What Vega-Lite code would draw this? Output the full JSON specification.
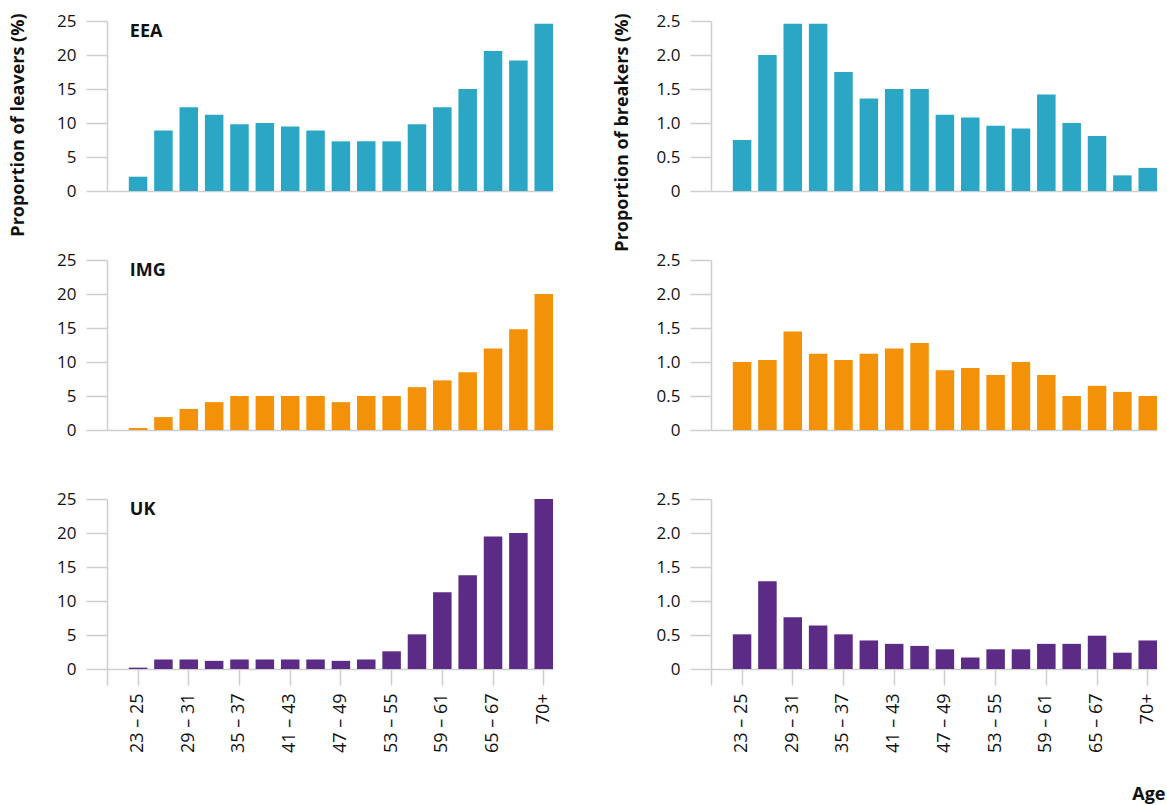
{
  "$schema": "https://vega.github.io/schema/vega-lite/v6.json",
  "padding": {"left": 8, "top": 12, "right": 2, "bottom": 2},
  "bounds": "flush",
  "columns": 2,
  "spacing": {"row": 69, "column": 158},
  "data": {
    "values": [
      {"group": "EEA", "measure": "leavers", "age": "23 – 25", "value": 2.1},
      {"group": "EEA", "measure": "leavers", "age": "26 – 28", "value": 8.9},
      {"group": "EEA", "measure": "leavers", "age": "29 – 31", "value": 12.3},
      {"group": "EEA", "measure": "leavers", "age": "32 – 34", "value": 11.2},
      {"group": "EEA", "measure": "leavers", "age": "35 – 37", "value": 9.8},
      {"group": "EEA", "measure": "leavers", "age": "38 – 40", "value": 10.0},
      {"group": "EEA", "measure": "leavers", "age": "41 – 43", "value": 9.5},
      {"group": "EEA", "measure": "leavers", "age": "44 – 46", "value": 8.9},
      {"group": "EEA", "measure": "leavers", "age": "47 – 49", "value": 7.3},
      {"group": "EEA", "measure": "leavers", "age": "50 – 52", "value": 7.3},
      {"group": "EEA", "measure": "leavers", "age": "53 – 55", "value": 7.3},
      {"group": "EEA", "measure": "leavers", "age": "56 – 58", "value": 9.8},
      {"group": "EEA", "measure": "leavers", "age": "59 – 61", "value": 12.3},
      {"group": "EEA", "measure": "leavers", "age": "62 – 64", "value": 15.0},
      {"group": "EEA", "measure": "leavers", "age": "65 – 67", "value": 20.6},
      {"group": "EEA", "measure": "leavers", "age": "68 – 69", "value": 19.2},
      {"group": "EEA", "measure": "leavers", "age": "70+", "value": 24.6},
      {"group": "IMG", "measure": "leavers", "age": "23 – 25", "value": 0.3},
      {"group": "IMG", "measure": "leavers", "age": "26 – 28", "value": 1.9},
      {"group": "IMG", "measure": "leavers", "age": "29 – 31", "value": 3.1},
      {"group": "IMG", "measure": "leavers", "age": "32 – 34", "value": 4.1},
      {"group": "IMG", "measure": "leavers", "age": "35 – 37", "value": 5.0},
      {"group": "IMG", "measure": "leavers", "age": "38 – 40", "value": 5.0},
      {"group": "IMG", "measure": "leavers", "age": "41 – 43", "value": 5.0},
      {"group": "IMG", "measure": "leavers", "age": "44 – 46", "value": 5.0},
      {"group": "IMG", "measure": "leavers", "age": "47 – 49", "value": 4.1},
      {"group": "IMG", "measure": "leavers", "age": "50 – 52", "value": 5.0},
      {"group": "IMG", "measure": "leavers", "age": "53 – 55", "value": 5.0},
      {"group": "IMG", "measure": "leavers", "age": "56 – 58", "value": 6.3},
      {"group": "IMG", "measure": "leavers", "age": "59 – 61", "value": 7.3},
      {"group": "IMG", "measure": "leavers", "age": "62 – 64", "value": 8.5},
      {"group": "IMG", "measure": "leavers", "age": "65 – 67", "value": 12.0},
      {"group": "IMG", "measure": "leavers", "age": "68 – 69", "value": 14.8},
      {"group": "IMG", "measure": "leavers", "age": "70+", "value": 20.0},
      {"group": "UK", "measure": "leavers", "age": "23 – 25", "value": 0.2},
      {"group": "UK", "measure": "leavers", "age": "26 – 28", "value": 1.4},
      {"group": "UK", "measure": "leavers", "age": "29 – 31", "value": 1.4},
      {"group": "UK", "measure": "leavers", "age": "32 – 34", "value": 1.2},
      {"group": "UK", "measure": "leavers", "age": "35 – 37", "value": 1.4},
      {"group": "UK", "measure": "leavers", "age": "38 – 40", "value": 1.4},
      {"group": "UK", "measure": "leavers", "age": "41 – 43", "value": 1.4},
      {"group": "UK", "measure": "leavers", "age": "44 – 46", "value": 1.4},
      {"group": "UK", "measure": "leavers", "age": "47 – 49", "value": 1.2},
      {"group": "UK", "measure": "leavers", "age": "50 – 52", "value": 1.4},
      {"group": "UK", "measure": "leavers", "age": "53 – 55", "value": 2.6},
      {"group": "UK", "measure": "leavers", "age": "56 – 58", "value": 5.1},
      {"group": "UK", "measure": "leavers", "age": "59 – 61", "value": 11.3},
      {"group": "UK", "measure": "leavers", "age": "62 – 64", "value": 13.8},
      {"group": "UK", "measure": "leavers", "age": "65 – 67", "value": 19.5},
      {"group": "UK", "measure": "leavers", "age": "68 – 69", "value": 20.0},
      {"group": "UK", "measure": "leavers", "age": "70+", "value": 25.0},
      {"group": "EEA", "measure": "breakers", "age": "23 – 25", "value": 0.75},
      {"group": "EEA", "measure": "breakers", "age": "26 – 28", "value": 2.0},
      {"group": "EEA", "measure": "breakers", "age": "29 – 31", "value": 2.46},
      {"group": "EEA", "measure": "breakers", "age": "32 – 34", "value": 2.46},
      {"group": "EEA", "measure": "breakers", "age": "35 – 37", "value": 1.75},
      {"group": "EEA", "measure": "breakers", "age": "38 – 40", "value": 1.36},
      {"group": "EEA", "measure": "breakers", "age": "41 – 43", "value": 1.5},
      {"group": "EEA", "measure": "breakers", "age": "44 – 46", "value": 1.5},
      {"group": "EEA", "measure": "breakers", "age": "47 – 49", "value": 1.12},
      {"group": "EEA", "measure": "breakers", "age": "50 – 52", "value": 1.08},
      {"group": "EEA", "measure": "breakers", "age": "53 – 55", "value": 0.96},
      {"group": "EEA", "measure": "breakers", "age": "56 – 58", "value": 0.92},
      {"group": "EEA", "measure": "breakers", "age": "59 – 61", "value": 1.42},
      {"group": "EEA", "measure": "breakers", "age": "62 – 64", "value": 1.0},
      {"group": "EEA", "measure": "breakers", "age": "65 – 67", "value": 0.81},
      {"group": "EEA", "measure": "breakers", "age": "68 – 69", "value": 0.23},
      {"group": "EEA", "measure": "breakers", "age": "70+", "value": 0.34},
      {"group": "IMG", "measure": "breakers", "age": "23 – 25", "value": 1.0},
      {"group": "IMG", "measure": "breakers", "age": "26 – 28", "value": 1.03},
      {"group": "IMG", "measure": "breakers", "age": "29 – 31", "value": 1.45},
      {"group": "IMG", "measure": "breakers", "age": "32 – 34", "value": 1.12},
      {"group": "IMG", "measure": "breakers", "age": "35 – 37", "value": 1.03},
      {"group": "IMG", "measure": "breakers", "age": "38 – 40", "value": 1.12},
      {"group": "IMG", "measure": "breakers", "age": "41 – 43", "value": 1.2},
      {"group": "IMG", "measure": "breakers", "age": "44 – 46", "value": 1.28},
      {"group": "IMG", "measure": "breakers", "age": "47 – 49", "value": 0.88},
      {"group": "IMG", "measure": "breakers", "age": "50 – 52", "value": 0.91},
      {"group": "IMG", "measure": "breakers", "age": "53 – 55", "value": 0.81},
      {"group": "IMG", "measure": "breakers", "age": "56 – 58", "value": 1.0},
      {"group": "IMG", "measure": "breakers", "age": "59 – 61", "value": 0.81},
      {"group": "IMG", "measure": "breakers", "age": "62 – 64", "value": 0.5},
      {"group": "IMG", "measure": "breakers", "age": "65 – 67", "value": 0.65},
      {"group": "IMG", "measure": "breakers", "age": "68 – 69", "value": 0.56},
      {"group": "IMG", "measure": "breakers", "age": "70+", "value": 0.5},
      {"group": "UK", "measure": "breakers", "age": "23 – 25", "value": 0.51},
      {"group": "UK", "measure": "breakers", "age": "26 – 28", "value": 1.29},
      {"group": "UK", "measure": "breakers", "age": "29 – 31", "value": 0.76},
      {"group": "UK", "measure": "breakers", "age": "32 – 34", "value": 0.64},
      {"group": "UK", "measure": "breakers", "age": "35 – 37", "value": 0.51},
      {"group": "UK", "measure": "breakers", "age": "38 – 40", "value": 0.42},
      {"group": "UK", "measure": "breakers", "age": "41 – 43", "value": 0.37},
      {"group": "UK", "measure": "breakers", "age": "44 – 46", "value": 0.34},
      {"group": "UK", "measure": "breakers", "age": "47 – 49", "value": 0.29},
      {"group": "UK", "measure": "breakers", "age": "50 – 52", "value": 0.17},
      {"group": "UK", "measure": "breakers", "age": "53 – 55", "value": 0.29},
      {"group": "UK", "measure": "breakers", "age": "56 – 58", "value": 0.29},
      {"group": "UK", "measure": "breakers", "age": "59 – 61", "value": 0.37},
      {"group": "UK", "measure": "breakers", "age": "62 – 64", "value": 0.37},
      {"group": "UK", "measure": "breakers", "age": "65 – 67", "value": 0.49},
      {"group": "UK", "measure": "breakers", "age": "68 – 69", "value": 0.24},
      {"group": "UK", "measure": "breakers", "age": "70+", "value": 0.42}
    ]
  },
  "concat": [
    {
      "width": 446, "height": 170,
      "transform": [{"filter": "datum.group == 'EEA' && datum.measure == 'leavers'"}],
      "encoding": {
        "x": {"field": "age", "type": "nominal", "sort": null,
          "scale": {"domain": ["23 – 25","26 – 28","29 – 31","32 – 34","35 – 37","38 – 40","41 – 43","44 – 46","47 – 49","50 – 52","53 – 55","56 – 58","59 – 61","62 – 64","65 – 67","68 – 69","70+"], "paddingInner": 0.27, "paddingOuter": 0.43, "align": 1},
          "axis": {"labels": false, "ticks": false, "title": null}},
        "y": {"field": "value", "type": "quantitative",
          "scale": {"domain": [0, 25], "nice": false},
          "axis": {"values": [0, 5, 10, 15, 20, 25], "title": "Proportion of leavers (%)",
            "titleAlign": "right", "titleBaseline": "alphabetic", "titleX": -84, "titleY": -8}}
      },
      "layer": [
        {"mark": {"type": "bar", "color": "#2BA6C4"}},
        {
          "transform": [{"filter": "datum.age == '23 – 25'"}],
          "mark": {"type": "text", "align": "left", "baseline": "top", "fontSize": 18, "fontWeight": "bold", "color": "#111111", "dx": 1, "dy": 2},
          "encoding": {
            "x": {"field": "age", "type": "nominal", "bandPosition": 0},
            "y": {"datum": 25, "type": "quantitative"},
            "text": {"field": "group"}
          }
        }
      ]
    },
    {
      "width": 446, "height": 170,
      "transform": [{"filter": "datum.group == 'EEA' && datum.measure == 'breakers'"}],
      "encoding": {
        "x": {"field": "age", "type": "nominal", "sort": null,
          "scale": {"domain": ["23 – 25","26 – 28","29 – 31","32 – 34","35 – 37","38 – 40","41 – 43","44 – 46","47 – 49","50 – 52","53 – 55","56 – 58","59 – 61","62 – 64","65 – 67","68 – 69","70+"], "paddingInner": 0.27, "paddingOuter": 0.43, "align": 1},
          "axis": {"labels": false, "ticks": false, "title": null}}
      },
      "layer": [
        {
          "mark": {"type": "bar", "color": "#2BA6C4"},
          "encoding": {
            "y": {"field": "value", "type": "quantitative",
              "scale": {"domain": [0, 2.5], "nice": false},
              "axis": {"values": [0, 0.5, 1, 1.5, 2, 2.5], "labelExpr": "datum.value == 0 ? '0' : format(datum.value, '.1f')",
                "title": "Proportion of breakers (%)",
                "titleAlign": "right", "titleBaseline": "alphabetic", "titleX": -84, "titleY": -8}}
          }
        }
      ]
    },
    {
      "width": 446, "height": 170,
      "transform": [{"filter": "datum.group == 'IMG' && datum.measure == 'leavers'"}],
      "encoding": {
        "x": {"field": "age", "type": "nominal", "sort": null,
          "scale": {"domain": ["23 – 25","26 – 28","29 – 31","32 – 34","35 – 37","38 – 40","41 – 43","44 – 46","47 – 49","50 – 52","53 – 55","56 – 58","59 – 61","62 – 64","65 – 67","68 – 69","70+"], "paddingInner": 0.27, "paddingOuter": 0.43, "align": 1},
          "axis": {"labels": false, "ticks": false, "title": null}},
        "y": {"field": "value", "type": "quantitative",
          "scale": {"domain": [0, 25], "nice": false},
          "axis": {"values": [0, 5, 10, 15, 20, 25], "title": null}}
      },
      "layer": [
        {"mark": {"type": "bar", "color": "#F39208"}},
        {
          "transform": [{"filter": "datum.age == '23 – 25'"}],
          "mark": {"type": "text", "align": "left", "baseline": "top", "fontSize": 18, "fontWeight": "bold", "color": "#111111", "dx": 1, "dy": 2},
          "encoding": {
            "x": {"field": "age", "type": "nominal", "bandPosition": 0},
            "y": {"datum": 25, "type": "quantitative"},
            "text": {"field": "group"}
          }
        }
      ]
    },
    {
      "width": 446, "height": 170,
      "transform": [{"filter": "datum.group == 'IMG' && datum.measure == 'breakers'"}],
      "encoding": {
        "x": {"field": "age", "type": "nominal", "sort": null,
          "scale": {"domain": ["23 – 25","26 – 28","29 – 31","32 – 34","35 – 37","38 – 40","41 – 43","44 – 46","47 – 49","50 – 52","53 – 55","56 – 58","59 – 61","62 – 64","65 – 67","68 – 69","70+"], "paddingInner": 0.27, "paddingOuter": 0.43, "align": 1},
          "axis": {"labels": false, "ticks": false, "title": null}}
      },
      "layer": [
        {
          "mark": {"type": "bar", "color": "#F39208"},
          "encoding": {
            "y": {"field": "value", "type": "quantitative",
              "scale": {"domain": [0, 2.5], "nice": false},
              "axis": {"values": [0, 0.5, 1, 1.5, 2, 2.5], "labelExpr": "datum.value == 0 ? '0' : format(datum.value, '.1f')", "title": null}}
          }
        }
      ]
    },
    {
      "width": 446, "height": 186,
      "transform": [{"filter": "datum.group == 'UK' && datum.measure == 'leavers'"}],
      "encoding": {
        "x": {"field": "age", "type": "nominal", "sort": null,
          "scale": {"domain": ["23 – 25","26 – 28","29 – 31","32 – 34","35 – 37","38 – 40","41 – 43","44 – 46","47 – 49","50 – 52","53 – 55","56 – 58","59 – 61","62 – 64","65 – 67","68 – 69","70+"], "paddingInner": 0.27, "paddingOuter": 0.43, "align": 1},
          "axis": {"values": ["23 – 25","29 – 31","35 – 37","41 – 43","47 – 49","53 – 55","59 – 61","65 – 67","70+"],
            "offset": -16, "tickSize": 16, "labelAngle": -90, "labelPadding": 8, "labelFontSize": 18, "title": null}},
        "y": {"field": "value", "type": "quantitative",
          "scale": {"domain": [-2.35, 25], "nice": false, "zero": false},
          "axis": {"values": [0, 5, 10, 15, 20, 25], "title": null}}
      },
      "layer": [
        {
          "mark": {"type": "bar", "color": "#5B2B85"},
          "encoding": {"y2": {"datum": 0}}
        },
        {
          "transform": [{"filter": "datum.age == '23 – 25'"}],
          "mark": {"type": "text", "align": "left", "baseline": "top", "fontSize": 18, "fontWeight": "bold", "color": "#111111", "dx": 1, "dy": 2},
          "encoding": {
            "x": {"field": "age", "type": "nominal", "bandPosition": 0},
            "y": {"datum": 25, "type": "quantitative"},
            "text": {"field": "group"}
          }
        }
      ]
    },
    {
      "width": 446, "height": 186,
      "transform": [{"filter": "datum.group == 'UK' && datum.measure == 'breakers'"}],
      "encoding": {
        "x": {"field": "age", "type": "nominal", "sort": null,
          "scale": {"domain": ["23 – 25","26 – 28","29 – 31","32 – 34","35 – 37","38 – 40","41 – 43","44 – 46","47 – 49","50 – 52","53 – 55","56 – 58","59 – 61","62 – 64","65 – 67","68 – 69","70+"], "paddingInner": 0.27, "paddingOuter": 0.43, "align": 1},
          "axis": {"values": ["23 – 25","29 – 31","35 – 37","41 – 43","47 – 49","53 – 55","59 – 61","65 – 67","70+"],
            "offset": -16, "tickSize": 16, "labelAngle": -90, "labelPadding": 8, "labelFontSize": 18,
            "title": "Age", "titleAnchor": "end", "titleAlign": "right", "titleBaseline": "alphabetic", "titleX": 454, "titleY": 130}}
      },
      "layer": [
        {
          "mark": {"type": "bar", "color": "#5B2B85"},
          "encoding": {
            "y": {"field": "value", "type": "quantitative",
              "scale": {"domain": [-0.235, 2.5], "nice": false, "zero": false},
              "axis": {"values": [0, 0.5, 1, 1.5, 2, 2.5], "labelExpr": "datum.value == 0 ? '0' : format(datum.value, '.1f')", "title": null}},
            "y2": {"datum": 0}
          }
        }
      ]
    }
  ],
  "config": {
    "font": "Open Sans",
    "view": {"stroke": null},
    "axis": {
      "grid": false,
      "domainColor": "#cfcfcf",
      "domainWidth": 1.5,
      "tickColor": "#cfcfcf",
      "tickWidth": 1.5,
      "labelColor": "#111111",
      "labelFontSize": 17,
      "labelOverlap": false,
      "labelBound": false,
      "titleColor": "#111111",
      "titleFontSize": 18,
      "titleFontWeight": "bold"
    },
    "axisY": {"tickSize": 21, "labelPadding": 10}
  }
}
